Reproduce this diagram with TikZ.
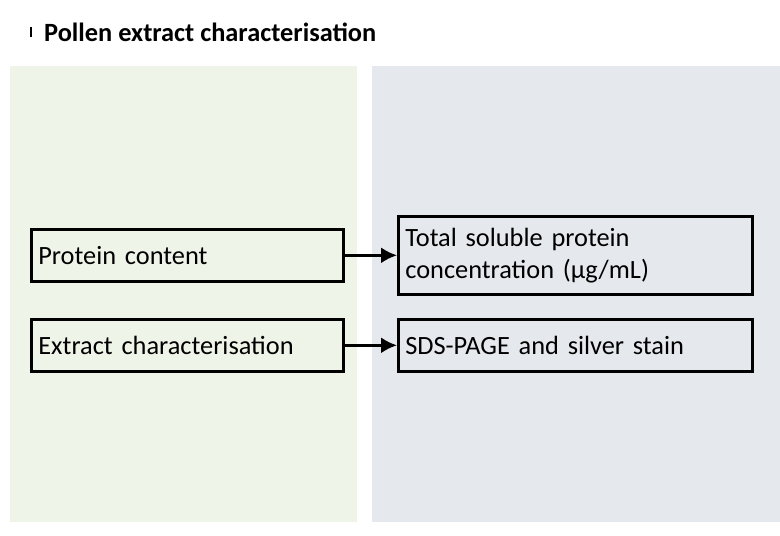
\documentclass[tikz,border=0pt]{standalone}
\usepackage{fontspec}
\setmainfont{Carlito}
\usetikzlibrary{arrows.meta,positioning}
\definecolor{leftbg}{HTML}{EFF4E8}
\definecolor{rightbg}{HTML}{E5E8EC}
\tikzset{
  stagebox/.style={draw, line width=1.5pt, align=left, anchor=north west, inner sep=4pt, font=\fontsize{15}{18}\selectfont, text width=#1},
  link/.style={-{Latex[length=9pt,width=9pt]}, line width=1.5pt}
}
\begin{document}
\begin{tikzpicture}[x=0.02cm,y=-0.02cm]
        \useasboundingbox (0,0) rectangle (780,536);
        \fill[leftbg] (10,66) rectangle (357,522);
        \fill[rightbg] (372,66) rectangle (780,522);

        \draw[line width=0.8pt] (31,27) -- (31,37);
        \node[anchor=west, font=\bfseries\fontsize{15}{18}\selectfont] (title) at (38,32) {Pollen extract characterisation};

        \node[stagebox=5.96cm, minimum height=1.04cm] (protein) at (30,228) {Protein content};
        \node[stagebox=5.96cm, minimum height=1.04cm] (extract) at (30,318) {Extract characterisation};
        \node[stagebox=6.8cm, minimum height=1.56cm] (total) at (397,215) {Total soluble protein\\concentration (µg/mL)};
        \node[stagebox=6.8cm, minimum height=1.04cm] (sds) at (397,318) {SDS-PAGE and silver stain};

        \draw[link] (protein.east) -- (protein.east -| total.west);
        \draw[link] (extract.east) -- (sds.west);
\end{tikzpicture}
\end{document}
